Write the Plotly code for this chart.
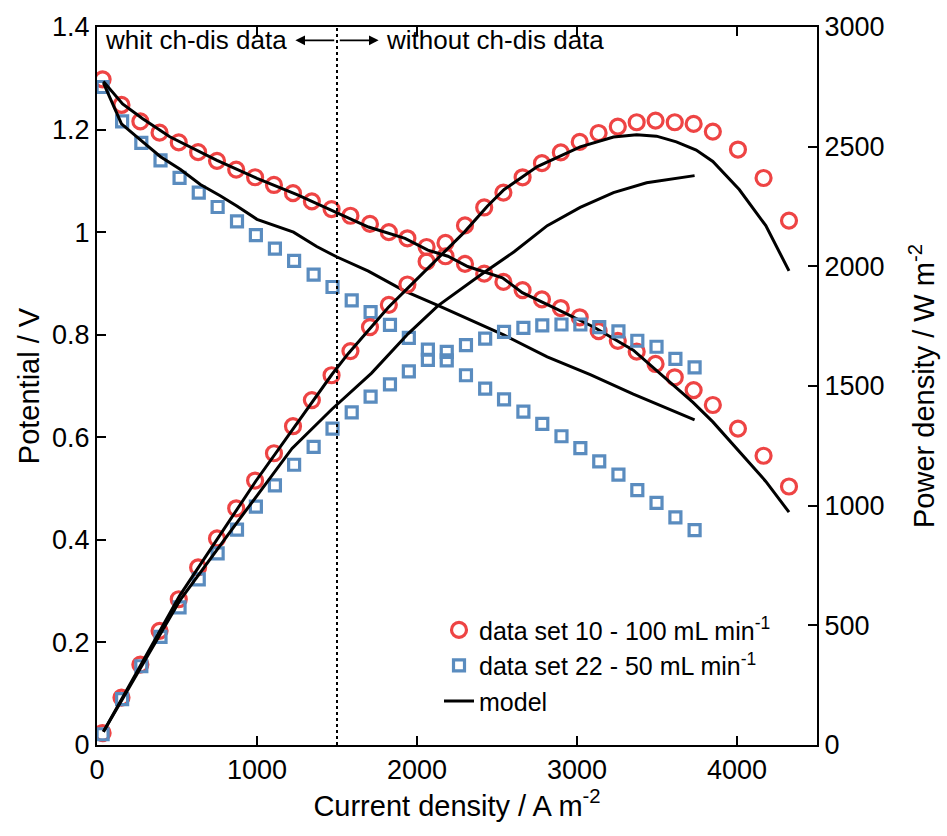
import plotly.graph_objects as go

# ---------------- data ----------------
I_red = [35, 153, 271, 391, 511, 632, 750, 870, 988, 1106, 1225, 1343, 1466, 1584, 1706,
         1824, 1940, 2060, 2178, 2300, 2420, 2540, 2660, 2781, 2899, 3017, 3135, 3255,
         3373, 3491, 3611, 3729, 3849, 4006, 4166, 4325]
V_red = [1.298, 1.248, 1.216, 1.194, 1.175, 1.156, 1.139, 1.122, 1.107, 1.092, 1.076,
         1.060, 1.045, 1.032, 1.016, 1.000, 0.988, 0.971, 0.953, 0.938, 0.919, 0.903,
         0.887, 0.869, 0.852, 0.834, 0.807, 0.788, 0.767, 0.743, 0.717, 0.692, 0.663,
         0.617, 0.564, 0.504]
P_red = [50, 198, 336, 477, 609, 742, 863, 989, 1105, 1219, 1332, 1441, 1545, 1646, 1746,
         1839, 1924, 2020, 2098, 2171, 2246, 2308, 2372, 2431, 2476, 2520, 2557, 2584,
         2602, 2609, 2602, 2595, 2563, 2488, 2369, 2191]

I_blue = [35, 157, 277, 397, 516, 636, 754, 875, 993, 1112, 1232, 1354, 1472, 1592, 1710,
          1831, 1949, 2068, 2186, 2306, 2426, 2544, 2665, 2783, 2903, 3021, 3139, 3259,
          3377, 3497, 3615, 3735]
V_blue = [1.283, 1.216, 1.174, 1.140, 1.106, 1.077, 1.049, 1.021, 0.994, 0.968, 0.944,
          0.917, 0.893, 0.867, 0.844, 0.819, 0.794, 0.771, 0.750, 0.721, 0.695, 0.674,
          0.650, 0.626, 0.602, 0.579, 0.553, 0.527, 0.497, 0.472, 0.444, 0.419]
P_blue = [45, 192, 329, 452, 575, 692, 801, 900, 996, 1085, 1171, 1246, 1322, 1390, 1456,
          1507, 1561, 1609, 1643, 1671, 1698, 1726, 1743, 1753, 1757, 1757, 1746, 1728,
          1689, 1664, 1613, 1578]

# model curves
Im_red_V = [40, 160, 286, 455, 750, 1000, 1250, 1466, 1697, 1925, 2068, 2193, 2317, 2534,
            2658, 2855, 3104, 3352, 3538, 3725, 3849, 4014, 4180, 4325]
Vm_red = [1.294, 1.250, 1.221, 1.186, 1.140, 1.105, 1.073, 1.042, 1.010, 0.988, 0.965,
          0.953, 0.933, 0.911, 0.882, 0.853, 0.815, 0.770, 0.719, 0.668, 0.630, 0.572,
          0.514, 0.454]
Im_red_P = [40, 271, 516, 992, 1468, 1571, 1820, 1944, 2193, 2296, 2441, 2545, 2752, 3020,
            3228, 3373, 3497, 3621, 3745, 3849, 4014, 4180, 4325]
Pm_red = [55, 333, 623, 1102, 1548, 1636, 1828, 1910, 2075, 2143, 2252, 2321, 2417, 2499,
          2540, 2550, 2544, 2520, 2486, 2438, 2321, 2170, 1981]

Im_blue_V = [40, 153, 275, 397, 522, 646, 770, 874, 1000, 1228, 1373, 1497, 1696, 1924,
             2130, 2317, 2545, 2814, 3083, 3352, 3518, 3735]
Vm_blue = [1.291, 1.211, 1.179, 1.147, 1.122, 1.093, 1.071, 1.051, 1.025, 1.000, 0.972,
           0.952, 0.924, 0.885, 0.857, 0.831, 0.799, 0.757, 0.722, 0.684, 0.662, 0.634]
Im_blue_P = [40, 516, 870, 1219, 1468, 1716, 1944, 2130, 2399, 2607, 2814, 3020, 3228,
             3435, 3735]
Pm_blue = [55, 602, 925, 1239, 1403, 1554, 1718, 1835, 1965, 2061, 2170, 2246, 2308,
           2349, 2379]

x_ticks = [0, 1000, 2000, 3000, 4000]
y_ticks = [0, 0.2, 0.4, 0.6, 0.8, 1, 1.2, 1.4]
y2_ticks = [0, 500, 1000, 1500, 2000, 2500, 3000]
divider_x = 1500

RED = "#EE4444"
BLUE = "#5A8CBF"
FONT = "Liberation Sans, Arial, Helvetica, sans-serif"

fig = go.Figure()

red_marker = dict(symbol="circle-open", size=15, color=RED, line=dict(width=3.2, color=RED))
blue_marker = dict(symbol="square-open", size=11, color=BLUE, line=dict(width=3.2, color=BLUE))

fig.add_trace(go.Scatter(x=I_red, y=V_red, mode="markers", marker=red_marker,
                         name="data set 10 - 100 mL min<sup>-1</sup>", legendrank=1))
fig.add_trace(go.Scatter(x=I_red, y=P_red, mode="markers", marker=red_marker,
                         yaxis="y2", showlegend=False))
fig.add_trace(go.Scatter(x=I_blue, y=V_blue, mode="markers", marker=blue_marker,
                         name="data set 22 - 50 mL min<sup>-1</sup>", legendrank=2))
fig.add_trace(go.Scatter(x=I_blue, y=P_blue, mode="markers", marker=blue_marker,
                         yaxis="y2", showlegend=False))

line_style = dict(color="black", width=3)
fig.add_trace(go.Scatter(x=Im_red_V, y=Vm_red, mode="lines", line=line_style,
                         name="model", legendrank=3))
fig.add_trace(go.Scatter(x=Im_blue_V, y=Vm_blue, mode="lines", line=line_style,
                         showlegend=False))
fig.add_trace(go.Scatter(x=Im_red_P, y=Pm_red, mode="lines", line=line_style,
                         yaxis="y2", showlegend=False))
fig.add_trace(go.Scatter(x=Im_blue_P, y=Pm_blue, mode="lines", line=line_style,
                         yaxis="y2", showlegend=False))

# dotted divider
fig.add_shape(type="line", xref="x", yref="paper", x0=divider_x, x1=divider_x, y0=0, y1=1,
              line=dict(color="black", width=2, dash="dot"))

# arrows and texts
ARROW_Y = 1.374
fig.add_annotation(x=1240, y=ARROW_Y, ax=divider_x - 8, ay=ARROW_Y, xref="x", yref="y",
                   axref="x", ayref="y", text="", showarrow=True, arrowhead=2,
                   arrowsize=1.2, arrowwidth=1.6, arrowcolor="black")
fig.add_annotation(x=1760, y=ARROW_Y, ax=divider_x + 8, ay=ARROW_Y, xref="x", yref="y",
                   axref="x", ayref="y", text="", showarrow=True, arrowhead=2,
                   arrowsize=1.2, arrowwidth=1.6, arrowcolor="black")
fig.add_annotation(x=40, y=ARROW_Y, xref="x", yref="y", text="whit ch-dis data",
                   showarrow=False, xanchor="left", yanchor="middle",
                   font=dict(size=26, color="black", family=FONT))
fig.add_annotation(x=1795, y=ARROW_Y, xref="x", yref="y", text="without ch-dis data",
                   showarrow=False, xanchor="left", yanchor="middle",
                   font=dict(size=26, color="black", family=FONT))

axis_common = dict(showgrid=False, zeroline=False, showline=True, linecolor="black",
                   linewidth=2, ticks="inside", ticklen=9, tickwidth=2, tickcolor="black",
                   tickfont=dict(size=27, color="black", family=FONT))

fig.update_layout(
    width=947, height=836,
    margin=dict(l=97, r=128, t=15, b=91),
    plot_bgcolor="white", paper_bgcolor="white",
    font=dict(family=FONT, color="black"),
    xaxis=dict(range=[0, 4500], tickvals=x_ticks, mirror="ticks",
               title=dict(text="Current density / A m<sup>-2</sup>",
                          font=dict(size=29, color="black", family=FONT), standoff=10),
               **axis_common),
    yaxis=dict(range=[0, 1.4], tickvals=y_ticks, mirror=True,
               title=dict(text="Potential / V",
                          font=dict(size=29, color="black", family=FONT), standoff=4),
               **axis_common),
    yaxis2=dict(range=[0, 3000], tickvals=y2_ticks, overlaying="y", side="right",
                title=dict(text="Power density / W m<sup>-2</sup>",
                           font=dict(size=29, color="black", family=FONT), standoff=30),
                **axis_common),
    legend=dict(x=0.475, y=0.192, xanchor="left", yanchor="top",
                bgcolor="rgba(0,0,0,0)", font=dict(size=25, color="black", family=FONT),
                tracegroupgap=6, itemwidth=30),
)

fig.write_html("out.html")
